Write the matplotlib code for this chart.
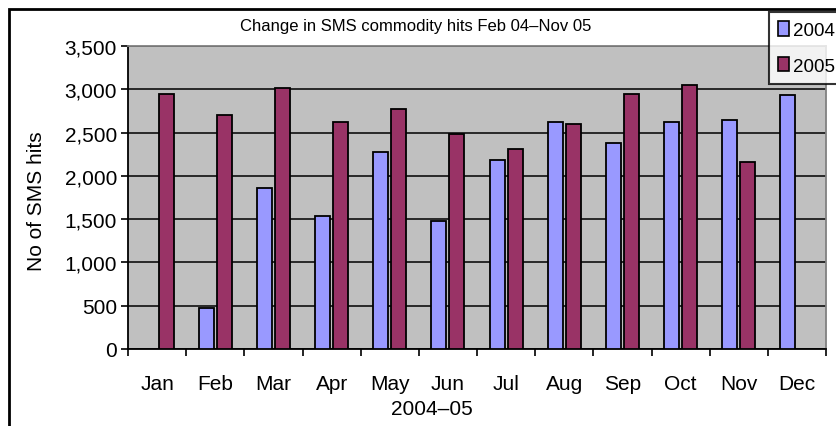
import numpy as np
import matplotlib
matplotlib.use("Agg")
import matplotlib.pyplot as plt
from matplotlib.patches import Rectangle, Patch

plt.rcParams['font.family'] = ['Liberation Sans', 'DejaVu Sans']

months = ["Jan", "Feb", "Mar", "Apr", "May", "Jun", "Jul", "Aug", "Sep", "Oct", "Nov", "Dec"]
# 2004 has no January value, 2005 has no December value
hits_2004 = [np.nan, 470, 1860, 1540, 2270, 1480, 2180, 2620, 2380, 2620, 2640, 2930]
hits_2005 = [2950, 2700, 3020, 2620, 2770, 2480, 2310, 2600, 2950, 3050, 2160, np.nan]
series = ["2004", "2005"]
colors = ["#9999FF", "#993366"]
yticks = [0, 500, 1000, 1500, 2000, 2500, 3000, 3500]

fig = plt.figure(figsize=(8.36, 4.27), dpi=100)
ax = fig.add_axes([128 / 836, 1 - 350 / 427, 698 / 836, 303 / 427])
ax.set_facecolor("#C0C0C0")

x = np.arange(len(months))
w = 0.26
ax.bar(x - 0.155, hits_2004, w, color=colors[0], edgecolor="black", linewidth=1.3, zorder=3)
ax.bar(x + 0.155, hits_2005, w, color=colors[1], edgecolor="black", linewidth=1.3, zorder=3)

ax.set_xlim(-0.5, len(months) - 0.5)
ax.set_ylim(0, 3500)
ax.set_yticks(yticks)
ax.set_yticklabels([f"{v:,}" for v in yticks], fontsize=15)
ax.yaxis.grid(True, color="black", linewidth=1.1, zorder=1)
ax.set_axisbelow(True)

# category boundaries as ticks, month names in between
ax.set_xticks(np.arange(-0.5, len(months), 1))
ax.set_xticklabels([])
ax.set_xticks(x, minor=True)
ax.set_xticklabels(months, minor=True, fontsize=15)
ax.tick_params(axis="x", which="major", direction="out", length=5, width=1.2)
ax.tick_params(axis="x", which="minor", length=0, pad=18)
ax.tick_params(axis="y", direction="out", length=5, width=1.2, pad=3)

for s in ["left", "bottom"]:
    ax.spines[s].set_linewidth(1.3)
    ax.spines[s].set_color("black")
for s in ["top", "right"]:
    ax.spines[s].set_linewidth(1.3)
    ax.spines[s].set_color("#808080")

ax.set_ylabel("No of SMS hits", fontsize=15)
ax.yaxis.set_label_coords(-0.118, 0.49)
ax.set_xlabel("2004\u201305", fontsize=15)
ax.xaxis.set_label_coords(0.436, -0.165)

fig.text(0.497, 1 - 27 / 427, "Change in SMS commodity hits Feb 04\u2013Nov 05",
         ha="center", va="center", fontsize=12)

# outer chart border (cut off on the right and bottom)
fig.patches.append(Rectangle((9 / 836, -0.2), 1.2, 1 - 10 / 427 + 0.2,
                             transform=fig.transFigure, fill=False,
                             edgecolor="black", linewidth=2))

handles = [Patch(facecolor=c, edgecolor="black", linewidth=1.2) for c in colors]
leg = fig.legend(handles, series, loc="upper left",
                 bbox_to_anchor=(769 / 836, 1 - 13 / 427), fontsize=13.5,
                 frameon=True, fancybox=False, handlelength=0.55, handleheight=0.8,
                 handletextpad=0.25, labelspacing=0.95, borderpad=0.5,
                 borderaxespad=0)
leg.get_frame().set_edgecolor("black")
leg.get_frame().set_linewidth(1.5)

fig.savefig("out.png", dpi=100)
